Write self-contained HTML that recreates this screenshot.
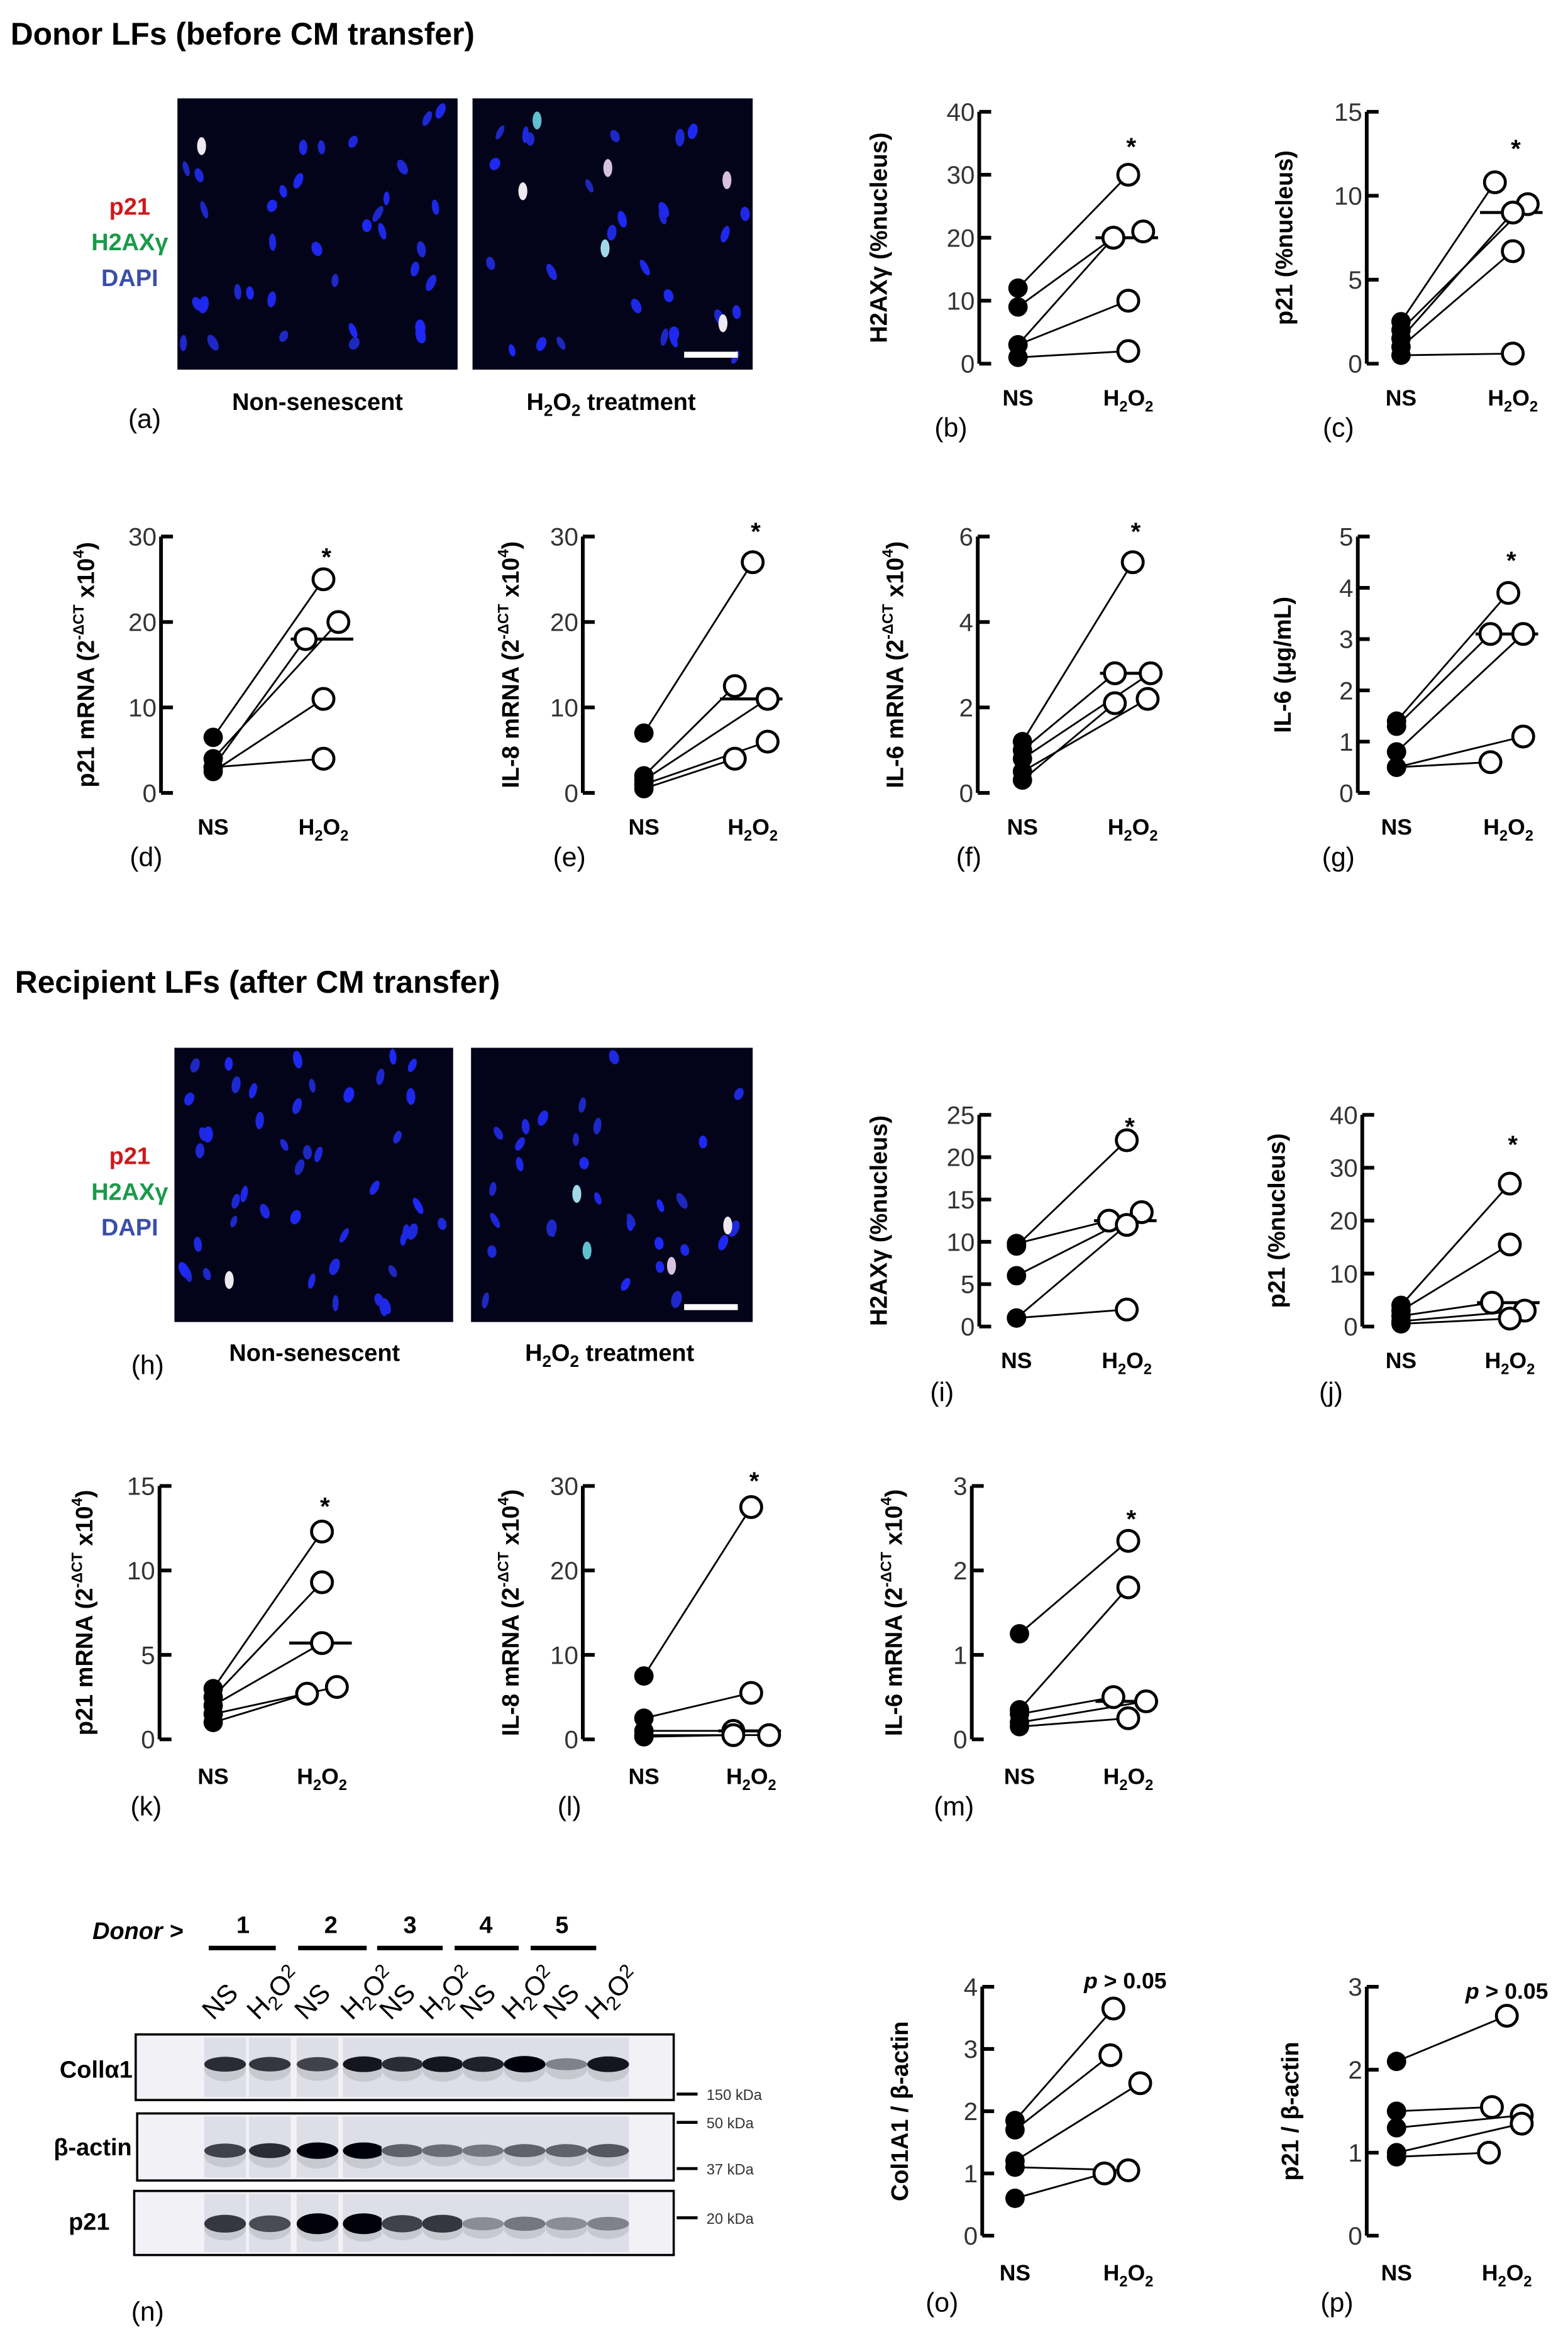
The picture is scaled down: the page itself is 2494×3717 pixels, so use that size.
<!DOCTYPE html>
<html><head><meta charset="utf-8">
<style>
html,body{margin:0;padding:0;background:#fff;width:2494px;height:3717px;overflow:hidden;}
svg{display:block;}
text{font-family:"Liberation Sans",sans-serif;}
</style></head>
<body>
<svg id="s" xmlns="http://www.w3.org/2000/svg" width="2494" height="3717" viewBox="0 0 1052 1568">
<rect width="1052" height="1568" fill="#fff"/>
<text x="7" y="30" font-size="21" font-weight="bold">Donor LFs (before CM transfer)</text>
<text x="10" y="666" font-size="21" font-weight="bold">Recipient LFs (after CM transfer)</text>
<g font-size="16" font-weight="bold" text-anchor="middle">
<text x="87" y="144" fill="#d0181c">p21</text>
<text x="87" y="168" fill="#1a9a4a">H2AXγ</text>
<text x="87" y="192" fill="#3b4fa8">DAPI</text>
<text x="87" y="781" fill="#d0181c">p21</text>
<text x="87" y="805" fill="#1a9a4a">H2AXγ</text>
<text x="87" y="829" fill="#3b4fa8">DAPI</text>
<text x="213" y="275">Non-senescent</text>
<text x="410" y="275">H<tspan font-size="11" dy="4">2</tspan><tspan dy="-4">O</tspan><tspan font-size="11" dy="4">2</tspan><tspan dy="-4"> treatment</tspan></text>
<text x="211" y="913">Non-senescent</text>
<text x="409" y="913">H<tspan font-size="11" dy="4">2</tspan><tspan dy="-4">O</tspan><tspan font-size="11" dy="4">2</tspan><tspan dy="-4"> treatment</tspan></text>
</g>
<g font-size="18">
<text x="86" y="287">(a)</text>
<text x="88" y="922">(h)</text>
<text x="88" y="1557">(n)</text>
</g>
<g id="imgs"></g>
<g id="charts"></g>
<g id="wb"></g>
</svg>
<script>
var NS="http://www.w3.org/2000/svg";
function el(p,t,a,txt){var e=document.createElementNS(NS,t);for(var k in a)e.setAttribute(k,a[k]);if(txt!==undefined)e.textContent=txt;p.appendChild(e);return e;}
var seed=7;function rnd(){seed=(seed*16807)%2147483647;return seed/2147483647;}
var imgs=document.getElementById('imgs');
function micro(x,y,w,h,n,special,bar){
 el(imgs,'rect',{x:x,y:y,width:w,height:h,fill:'#03041a'});
 for(var i=0;i<n;i++){var cx=x+4+rnd()*(w-8),cy=y+4+rnd()*(h-8);
  var b=40+Math.floor(rnd()*60);
  el(imgs,'ellipse',{cx:cx,cy:cy,rx:2+rnd()*1.5,ry:4+rnd()*2,fill:'rgb(30,40,'+(150+b)+')',transform:'rotate('+(rnd()*60-30)+' '+cx+' '+cy+')'});}
 for(var j=0;j<special;j++){var cx=x+10+rnd()*(w-20),cy=y+10+rnd()*(h-20);
  var c=['#f0e8f0','#d8c0e0','#60c0d0','#a0d8e8'][j%4];
  el(imgs,'ellipse',{cx:cx,cy:cy,rx:3,ry:6,fill:c});}
 if(bar)el(imgs,'rect',{x:x+w-46,y:y+h-12,width:36,height:4,fill:'#fff'});
}
micro(119,66,188,182,35,1,false);
micro(317,66,188,182,28,6,true);
micro(117,703,187,184,45,1,false);
micro(316,703,189,184,30,4,true);

var ch=document.getElementById('charts');
function chart(o){
 var g=el(ch,'g',{});
 var X=o.ax,T=o.top,B=o.bot,M=o.max;
 function Y(v){return B-(B-T)*v/M;}
 el(g,'line',{x1:X,y1:T,x2:X,y2:B,stroke:'#000','stroke-width':2.5});
 for(var t=0;t<=M+1e-9;t+=o.step){var yy=Y(t);
  el(g,'line',{x1:X,y1:yy,x2:X+8,y2:yy,stroke:'#000','stroke-width':2.5});
  el(g,'text',{x:X-3,y:yy+6,'font-size':17,'text-anchor':'end',fill:'#333'},String(Math.round(t*10)/10));}
 var lx=X-(o.lx||50),ly=(T+B)/2;
 var lab=el(g,'text',{x:lx,y:ly,'font-size':16,'font-weight':'bold','text-anchor':'middle',transform:'rotate(-90 '+lx+' '+ly+')'});
 lab.innerHTML=o.label;
 for(var i=0;i<o.ns.length;i++)el(g,'line',{x1:o.nx,y1:Y(o.ns[i]),x2:o.hx+(o.off?o.off[i]:0),y2:Y(o.h[i]),stroke:'#000','stroke-width':1.2});
 el(g,'line',{x1:o.hx-22,y1:Y(o.med),x2:o.hx+20,y2:Y(o.med),stroke:'#000','stroke-width':2});
 for(var i=0;i<o.ns.length;i++)el(g,'circle',{cx:o.nx,cy:Y(o.ns[i]),r:6.5,fill:'#000'});
 for(var i=0;i<o.h.length;i++)el(g,'circle',{cx:o.hx+(o.off?o.off[i]:0),cy:Y(o.h[i]),r:7,fill:'#fff',stroke:'#000','stroke-width':2});
 if(o.star)el(g,'text',{x:o.hx+2,y:Y(o.star)+8,'font-size':17,'font-weight':'bold','text-anchor':'middle'},'*');
 var ty=B+(o.ty||28);
 el(g,'text',{x:o.nx,y:ty,'font-size':15,'font-weight':'bold','text-anchor':'middle'},'NS');
 el(g,'text',{x:o.hx,y:ty,'font-size':15,'font-weight':'bold','text-anchor':'middle'}).innerHTML='H<tspan font-size="10" dy="4">2</tspan><tspan dy="-4">O</tspan><tspan font-size="10" dy="4">2</tspan>';
 el(g,'text',{x:o.letx,y:ty+(o.lety||21),'font-size':18,'text-anchor':'middle'},o.letter);
}
var mrna=function(n){return n+' mRNA (2<tspan font-size="10" dy="-7">-ΔCT</tspan><tspan dy="7"> x10</tspan><tspan font-size="10" dy="-7">4</tspan><tspan dy="7">)</tspan>';};
chart({ax:657,top:75,bot:244,max:40,step:10,nx:683,hx:757,ns:[12,9,3,3,1],h:[30,20,20,10,2],off:[0,-10,-10,0,0],med:20,star:35,label:'H2AXγ (%nucleus)',lx:62,letter:'(b)',letx:638});
el(ch,'circle',{cx:767,cy:244-169*21/40,r:7,fill:'#fff',stroke:'#000','stroke-width':2});
chart({ax:917,top:75,bot:244,max:15,step:5,nx:940,hx:1015,ns:[2.5,2,1.5,1,0.5],h:[10.8,9.5,9,6.7,0.6],off:[-12,10,0,0,0],med:9,star:13,label:'p21 (%nucleus)',lx:50,letter:'(c)',letx:898});
chart({ax:108,top:360,bot:532,max:30,step:10,nx:143,hx:217,ns:[6.5,4,3,2.5,3],h:[25,20,18,11,4],off:[0,10,-12,0,0],med:18,star:28,label:mrna('p21'),lx:45,letter:'(d)',letx:98});
chart({ax:391,top:360,bot:532,max:30,step:10,nx:432,hx:505,ns:[7,2,1.5,1,0.5],h:[27,12.5,11,6,4],off:[0,-12,10,10,-12],med:11,star:31,label:mrna('IL-8'),lx:43,letter:'(e)',letx:382});
chart({ax:656,top:360,bot:532,max:6,step:2,nx:686,hx:760,ns:[1.2,1,0.8,0.5,0.3],h:[5.4,2.8,2.8,2.2,2.1],off:[0,-12,12,10,-12],med:2.8,star:6.2,label:mrna('IL-6'),lx:50,letter:'(f)',letx:650});
chart({ax:911,top:360,bot:532,max:5,step:1,nx:937,hx:1012,ns:[1.4,1.3,0.8,0.5,0.5],h:[3.9,3.1,3.1,1.1,0.6],off:[0,-12,10,10,-12],med:3.1,star:4.6,label:'IL-6 (μg/mL)',lx:45,letter:'(g)',letx:898});
chart({ax:657,top:748,bot:890,max:25,step:5,nx:682,hx:756,ns:[9.5,9.8,6,1,1],h:[22,12.5,13.5,12,2],off:[0,-12,10,0,0],med:12.5,star:24,label:'H2AXγ (%nucleus)',lx:62,ty:28,letter:'(i)',letx:632,lety:22});
chart({ax:914,top:748,bot:890,max:40,step:10,nx:940,hx:1013,ns:[4,3,2,1,0.5],h:[27,15.5,4.5,3,1.5],off:[0,0,-12,10,0],med:4.5,star:35,label:'p21 (%nucleus)',lx:52,letter:'(j)',letx:893,lety:22});
chart({ax:107,top:997,bot:1167,max:15,step:5,nx:143,hx:216,ns:[3,2.5,2,1.5,1],h:[12.3,9.3,5.7,3.1,2.7],off:[0,0,0,10,-10],med:5.7,star:14,label:mrna('p21'),lx:45,ty:30,letter:'(k)',letx:98});
chart({ax:391,top:997,bot:1167,max:30,step:10,nx:432,hx:504,ns:[7.5,2.5,1,0.5,0.3],h:[27.5,5.5,1,0.5,0.5],off:[0,0,-12,12,-12],med:1,star:31,label:mrna('IL-8'),lx:43,ty:30,letter:'(l)',letx:382});
chart({ax:652,top:997,bot:1167,max:3,step:1,nx:684,hx:757,ns:[1.25,0.35,0.3,0.2,0.15],h:[2.35,1.8,0.5,0.45,0.25],off:[0,0,-10,12,0],med:0.45,star:2.65,label:mrna('IL-6'),lx:47,ty:30,letter:'(m)',letx:640});
chart({ax:659,top:1333,bot:1500,max:4,step:1,nx:681,hx:757,ns:[1.85,1.7,1.2,1.1,0.6],h:[3.65,2.9,2.45,1.05,1.0],off:[-10,-12,8,0,-16],med:-10,label:'Col1A1 / β-actin',lx:50,ty:30,letter:'(o)',letx:632});
chart({ax:917,top:1333,bot:1500,max:3,step:1,nx:937,hx:1011,ns:[2.1,1.5,1.3,1.0,0.95],h:[2.65,1.55,1.45,1.35,1.0],off:[0,-10,10,10,-12],med:-10,label:'p21 / β-actin',lx:46,ty:30,letter:'(p)',letx:897});
el(ch,'text',{x:755,y:1334,'font-size':15,'font-weight':'bold','text-anchor':'middle'}).innerHTML='<tspan font-style="italic">p</tspan> &gt; 0.05';
el(ch,'text',{x:1011,y:1341,'font-size':15,'font-weight':'bold','text-anchor':'middle'}).innerHTML='<tspan font-style="italic">p</tspan> &gt; 0.05';

var wb=document.getElementById('wb');
el(wb,'text',{x:62,y:1301,'font-size':16,'font-weight':'bold','font-style':'italic'},'Donor >');
var nums=[163,222,275,326,377],bars=[[140,185],[200,246],[253,297],[305,348],[356,400]];
for(var i=0;i<5;i++){el(wb,'text',{x:nums[i],y:1297,'font-size':16,'font-weight':'bold','text-anchor':'middle'},String(i+1));
 el(wb,'line',{x1:bars[i][0],y1:1307,x2:bars[i][1],y2:1307,stroke:'#000','stroke-width':3});}
var lanes=[151,181,213,244,270,297,324,352,380,408];
for(var i=0;i<10;i++){var x=lanes[i]-8,y=1356;var t=el(wb,'text',{x:x,y:y,'font-size':18,transform:'rotate(-45 '+x+' '+y+')'});
 if(i%2==0)t.textContent='NS';else t.innerHTML='H<tspan font-size="13" dy="4">2</tspan><tspan dy="-4">O</tspan><tspan font-size="13" dy="-5">2</tspan>';}
var boxes=[[91,1365,452,1409],[92,1418,452,1463],[90,1470,452,1513]];
var inten=[[0.8,0.75,0.7,0.9,0.8,0.9,0.85,1,0.4,0.9],[0.7,0.8,1,1,0.55,0.5,0.45,0.55,0.55,0.6],[0.75,0.65,1,1,0.7,0.75,0.35,0.45,0.35,0.4]];
var by=[1385,1443,1492];
for(var b=0;b<3;b++){var bx=boxes[b];
 el(wb,'rect',{x:bx[0],y:bx[1],width:bx[2]-bx[0],height:bx[3]-bx[1],fill:'#f2f2f6',stroke:'#000','stroke-width':1.5});
 for(var i=0;i<10;i++){var v=inten[b][i];var c=Math.round(215*(1-v));
  el(wb,'rect',{x:lanes[i]-14,y:bx[1]+2,width:28,height:bx[3]-bx[1]-4,fill:'#dedee8'});
  el(wb,'ellipse',{cx:lanes[i],cy:by[b]+3,rx:14,ry:6+v*3,fill:'#c8c8d0'});
  el(wb,'ellipse',{cx:lanes[i],cy:by[b],rx:14,ry:3+v*(b==2?4:2.5),fill:'rgb('+c+','+c+','+(c+10)+')'});}}
el(wb,'text',{x:40,y:1394,'font-size':16,'font-weight':'bold'},'Collα1');
el(wb,'text',{x:36,y:1446,'font-size':16,'font-weight':'bold'},'β-actin');
el(wb,'text',{x:46,y:1496,'font-size':16,'font-weight':'bold'},'p21');
var mk=[[1405,'150 kDa'],[1424,'50 kDa'],[1455,'37 kDa'],[1488,'20 kDa']];
for(var i=0;i<4;i++){el(wb,'line',{x1:454,y1:mk[i][0],x2:468,y2:mk[i][0],stroke:'#000','stroke-width':2});
 el(wb,'text',{x:474,y:mk[i][0]+4,'font-size':10,fill:'#333'},mk[i][1]);}
</script>
</body></html>
